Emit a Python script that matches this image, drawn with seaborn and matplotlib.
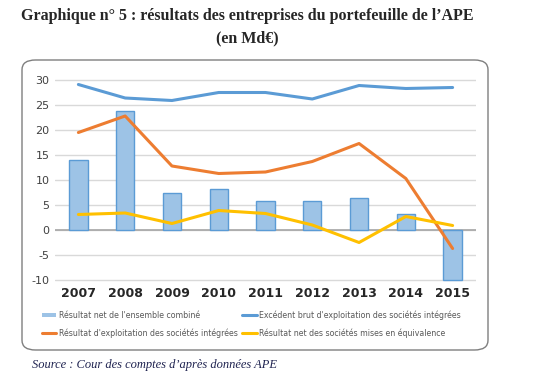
import matplotlib
matplotlib.use("Agg")
import matplotlib.pyplot as plt
from matplotlib.patches import FancyBboxPatch, Patch
from matplotlib.lines import Line2D
import seaborn as sns

# données (Md€)
years = ["2007", "2008", "2009", "2010", "2011", "2012", "2013", "2014", "2015"]
res_net_combine = [14.1, 23.8, 7.5, 8.2, 5.8, 5.8, 6.4, 3.3, -9.9]
ebe_integrees = [29.1, 26.4, 25.9, 27.5, 27.5, 26.2, 28.9, 28.3, 28.5]
res_expl_integrees = [19.5, 22.8, 12.8, 11.3, 11.6, 13.7, 17.3, 10.3, -3.7]
res_net_equivalence = [3.1, 3.4, 1.3, 3.9, 3.3, 1.0, -2.5, 2.7, 0.9]
yticks = [-10, -5, 0, 5, 10, 15, 20, 25, 30]

c_bar = "#9DC3E6"
c_bar_edge = "#5B9BD5"
c_ebe = "#5B9BD5"
c_expl = "#ED7D31"
c_equiv = "#FFC000"

sns.set_style("white")
plt.rcParams["axes.unicode_minus"] = False
fig = plt.figure(figsize=(5.37, 3.88), dpi=100)

# cadre arrondi (derrière le graphique)
box = FancyBboxPatch((22 / 537, 1 - 350 / 388), (488 - 22) / 537, (350 - 60) / 388,
                     boxstyle="round,pad=0,rounding_size=0.025", transform=fig.transFigure,
                     facecolor="white", edgecolor="#7F7F7F", linewidth=1.0, zorder=-5)
fig.patches.append(box)

ax = fig.add_axes([55 / 537, 1 - 282.5 / 388, (476 - 55) / 537, 205 / 388])
ax.set_zorder(2)
ax.set_facecolor("none")

sns.barplot(x=years, y=res_net_combine, color=c_bar, edgecolor=c_bar_edge,
            linewidth=1.0, width=0.39, saturation=1, ax=ax, zorder=2)
sns.pointplot(x=years, y=ebe_integrees, color=c_ebe, marker="", linewidth=2.2, ax=ax)
sns.pointplot(x=years, y=res_expl_integrees, color=c_expl, marker="", linewidth=2.2, ax=ax)
sns.pointplot(x=years, y=res_net_equivalence, color=c_equiv, marker="", linewidth=2.2, ax=ax)

ax.set_ylim(-10.5, 30.5)
ax.set_xlim(-0.5, 8.5)
ax.set_yticks(yticks)
ax.yaxis.grid(True, color="#D9D9D9", linewidth=1.0)
ax.set_axisbelow(True)
ax.axhline(0, color="#A6A6A6", linewidth=1.2, zorder=1)
for s in ax.spines.values():
    s.set_visible(False)
ax.tick_params(axis="both", length=0)
ax.tick_params(axis="y", labelsize=8, labelcolor="#404040", pad=4)
ax.tick_params(axis="x", labelsize=9, pad=3)
for lab in ax.get_xticklabels():
    lab.set_fontweight("bold")
ax.set_xlabel("")
ax.set_ylabel("")

handles = [
    Patch(facecolor=c_bar, edgecolor="none"),
    Line2D([], [], color=c_expl, linewidth=2.2),
    Line2D([], [], color=c_ebe, linewidth=2.2),
    Line2D([], [], color=c_equiv, linewidth=2.2),
]
labels = [
    "Résultat net de l'ensemble combiné",
    "Résultat d'exploitation des sociétés intégrées",
    "Excédent brut d'exploitation des sociétés intégrées",
    "Résultat net des sociétés mises en équivalence",
]
fig.legend(handles, labels, ncol=2, loc="upper left", bbox_to_anchor=(0.065, 1 - 303 / 388),
           frameon=False, fontsize=5.7, labelcolor="#595959", handlelength=1.8,
           handleheight=0.5, handletextpad=0.3, columnspacing=0.6, labelspacing=1.1)

fig.text(0.46, 1 - 16 / 388, "Graphique n° 5 : résultats des entreprises du portefeuille de l’APE",
         ha="center", va="center", family="Liberation Serif", fontweight="bold", fontsize=11.5)
fig.text(0.46, 1 - 38 / 388, "(en Md€)", ha="center", va="center",
         family="Liberation Serif", fontweight="bold", fontsize=11.5)
fig.text(32 / 537, 1 - 365 / 388, "Source : Cour des comptes d’après données APE",
         ha="left", va="center", family="Liberation Serif", style="italic",
         fontsize=9, color="#1F2350")

fig.savefig("out.png", dpi=100)
